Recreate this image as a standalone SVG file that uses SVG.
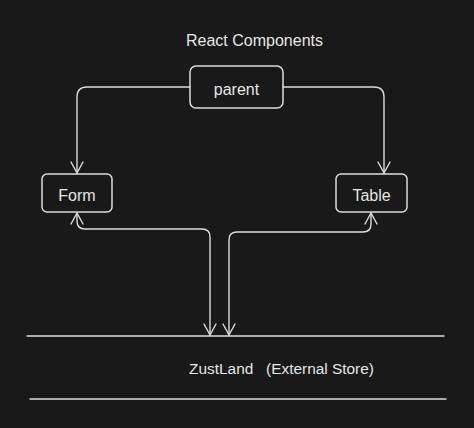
<svg xmlns="http://www.w3.org/2000/svg" width="474" height="428" viewBox="0 0 474 428">
<defs>
<style>
.bg{fill:#191919}
.box{fill:none;stroke:#dcdcdc;stroke-width:1.5}
.ln{fill:none;stroke:#dcdcdc;stroke-width:1.4;stroke-linecap:round;stroke-linejoin:round}
.t{fill:#e6e6e6;font-family:"Liberation Sans",Arial,sans-serif;font-size:16px;text-anchor:middle}
</style>
<marker id="ah" viewBox="-12 -7 14 14" markerWidth="14" markerHeight="14" refX="0" refY="0" orient="auto-start-reverse" markerUnits="userSpaceOnUse">
<path d="M-11,-6 L0,0 L-11,6" fill="none" stroke="#dcdcdc" stroke-width="1.4" stroke-linecap="round" stroke-linejoin="round"/>
</marker>
</defs>
<rect class="bg" x="0" y="0" width="474" height="428"/>
<text class="t" x="254.5" y="46">React Components</text>
<g id="parent">
<rect class="box" x="190" y="66" width="93" height="42" rx="6"/>
<text class="t" x="236.5" y="95">parent</text>
</g>
<g id="form">
<rect class="box" x="42" y="174" width="70" height="38" rx="5"/>
<text class="t" x="77" y="201">Form</text>
</g>
<g id="table">
<rect class="box" x="336" y="174" width="71" height="38" rx="5"/>
<text class="t" x="371.5" y="201">Table</text>
</g>
<g id="store">
<path class="ln" d="M27,336 H444"/>
<path class="ln" d="M30,399 H446"/>
<text class="t" x="281.5" y="374" style="font-size:15.4px" xml:space="preserve">ZustLand   (External Store)</text>
</g>
<g id="connectors">
<path class="ln" d="M190,87 H87 Q77,87 77,97 V173" marker-end="url(#ah)"/>
<path class="ln" d="M283,87 H374 Q384,87 384,97 V173" marker-end="url(#ah)"/>
<path class="ln" d="M77,213 V221 Q77,229 85,229 H202 Q210,229 210,237 V335" marker-start="url(#ah)" marker-end="url(#ah)"/>
<path class="ln" d="M371,213 V224 Q371,232 363,232 H237 Q229,232 229,240 V335" marker-start="url(#ah)" marker-end="url(#ah)"/>
</g>
</svg>
